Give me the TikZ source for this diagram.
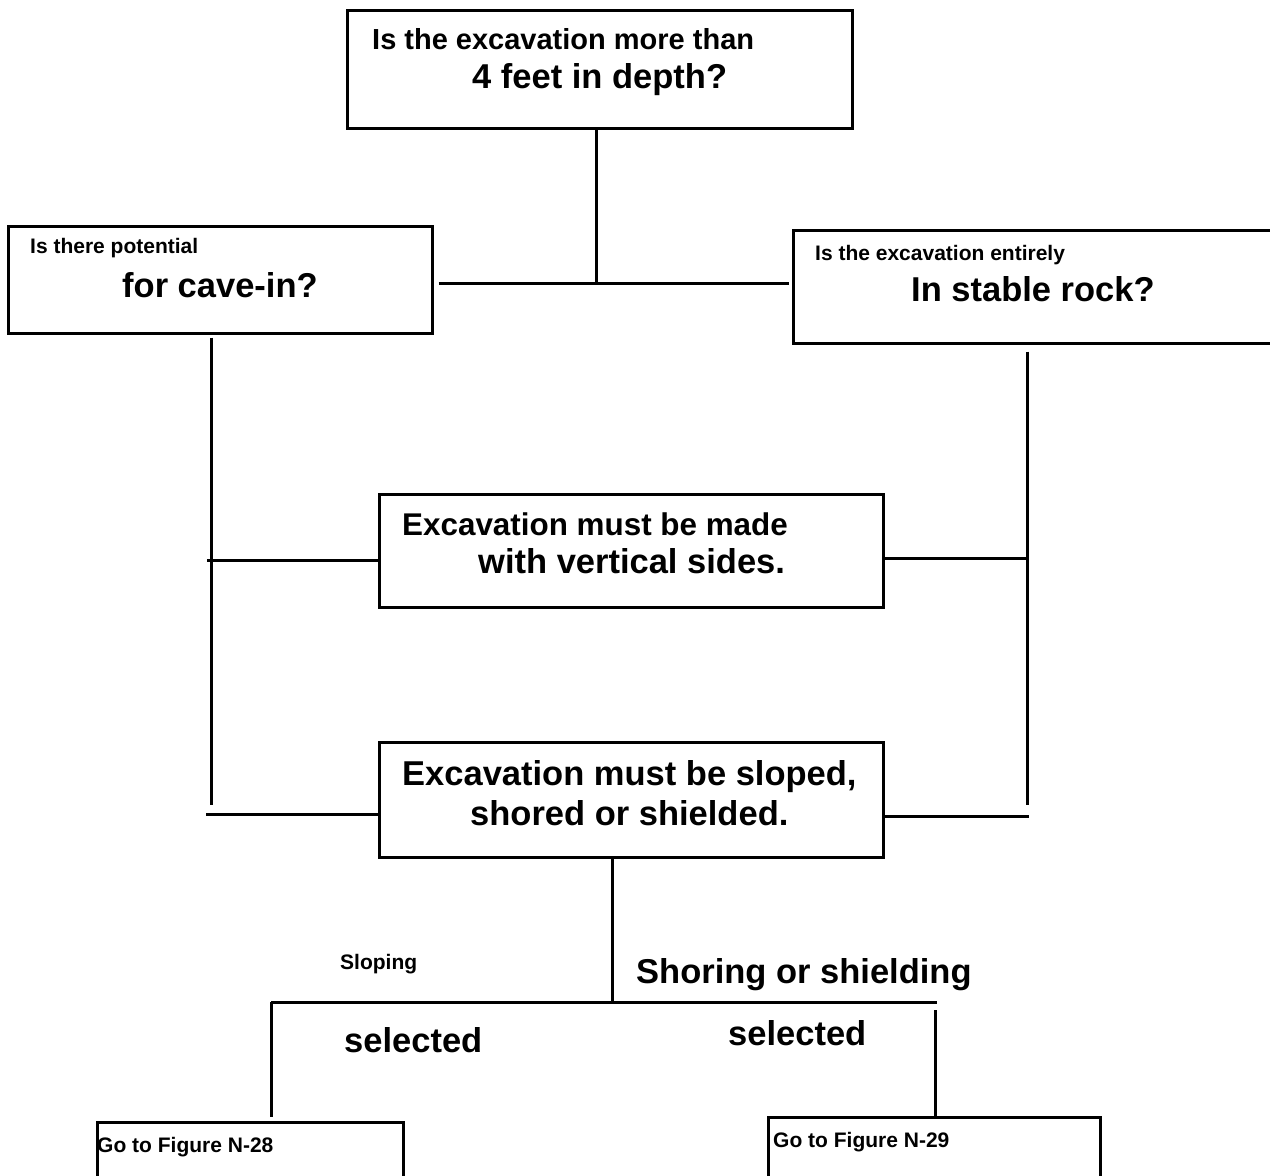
\documentclass[tikz,border=0pt]{standalone}
\usepackage{fontspec}
\setmainfont{Liberation Sans}
\usetikzlibrary{calc}

\begin{document}
\begin{tikzpicture}[
  x=1pt, y=-1pt,
  every node/.style={inner sep=0pt, anchor=base west},
  qbox/.style={draw, line width=3pt, anchor=center},
  link/.style={line width=3pt},
  small/.style={font=\fontsize{21}{25}\selectfont\bfseries},
  mid/.style={font=\fontsize{29}{34}\selectfont\bfseries},
  big/.style={font=\fontsize{34.5}{40}\selectfont\bfseries}
]
\useasboundingbox (0,0) rectangle (1270,1176);

% question and action boxes
\node[qbox, minimum width=505, minimum height=118] (depth) at (599.5,69) {};
\node[qbox, minimum width=424, minimum height=107] (cavein) at (220,279.5) {};
\node[qbox, minimum width=497, minimum height=113] (rock) at (1041.5,286.5) {};
\node[qbox, minimum width=504, minimum height=113] (vertical) at (631,550.5) {};
\node[qbox, minimum width=504, minimum height=115] (sloped) at (631,799.5) {};
\node[qbox, minimum width=306, minimum height=78] (fig28) at (250,1161) {};
\node[qbox, minimum width=332, minimum height=83] (fig29) at (934,1158.5) {};

% box texts
\node[mid] (depthA) at (372,49) {Is the excavation more than};
\node[big] (depthB) at (472,88) {4 feet in depth?};
\node[small] (caveA) at (30,253) {Is there potential};
\node[big] (caveB) at (122,297) {for cave-in?};
\node[small] (rockA) at (815,260) {Is the excavation entirely};
\node[big] (rockB) at (911,301) {In stable rock?};
\node[font=\fontsize{31.4}{36}\selectfont\bfseries] (vertA) at (402,535) {Excavation must be made};
\node[big] (vertB) at (478,573) {with vertical sides.};
\node[big] (slopeA) at (402,785) {Excavation must be sloped,};
\node[big] (slopeB) at (470,825) {shored or shielded.};
\node[small] (goA) at (97,1152) {Go to Figure N-28};
\node[small] (goB) at (773,1147) {Go to Figure N-29};

% branch labels
\node[small] (slopeL) at (340,969) {Sloping};
\node[big] (shoreL) at (636,983) {Shoring or shielding};
\node[big] (selL) at (344,1052) {selected};
\node[big] (selR) at (728,1045) {selected};

% connectors
\coordinate (fork) at (596,283);
\coordinate (lbot) at (211,805);
\coordinate (rbot) at (1027,805);
\coordinate (split) at (612,1002);
\coordinate (ldrop) at (271,1002);
\coordinate (rend) at (937,1002);
\coordinate (rdrop) at (935,1010);

\draw[link] (depth.south -| fork) -- (fork);
\draw[link] ([xshift=5pt]cavein.east |- fork) -- ([xshift=-3pt]rock.west |- fork);
\draw[link] ([yshift=-3pt]cavein.south -| lbot) -- (lbot);
\draw[link] ([yshift=-7pt]rock.south -| rbot) -- (rbot);
\draw[link] ([yshift=-9.5pt]vertical.west) -- ([xshift=-4pt,yshift=-9.5pt]vertical.west -| lbot);
\draw[link] ([yshift=-14.5pt]sloped.west) -- ([xshift=-5pt,yshift=-14.5pt]sloped.west -| lbot);
\draw[link] ([yshift=-7.5pt]vertical.east) -- ([yshift=-7.5pt]vertical.east -| rbot);
\draw[link] ([yshift=-16.5pt]sloped.east) -- ([xshift=2pt,yshift=-16.5pt]sloped.east -| rbot);
\draw[link] (sloped.south -| split) -- (split);
\draw[link] (ldrop) -- (rend);
\draw[link] (ldrop) -- ([yshift=4pt]ldrop |- fig28.north);
\draw[link] (rdrop) -- (rdrop |- fig29.north);
\end{tikzpicture}
\end{document}
